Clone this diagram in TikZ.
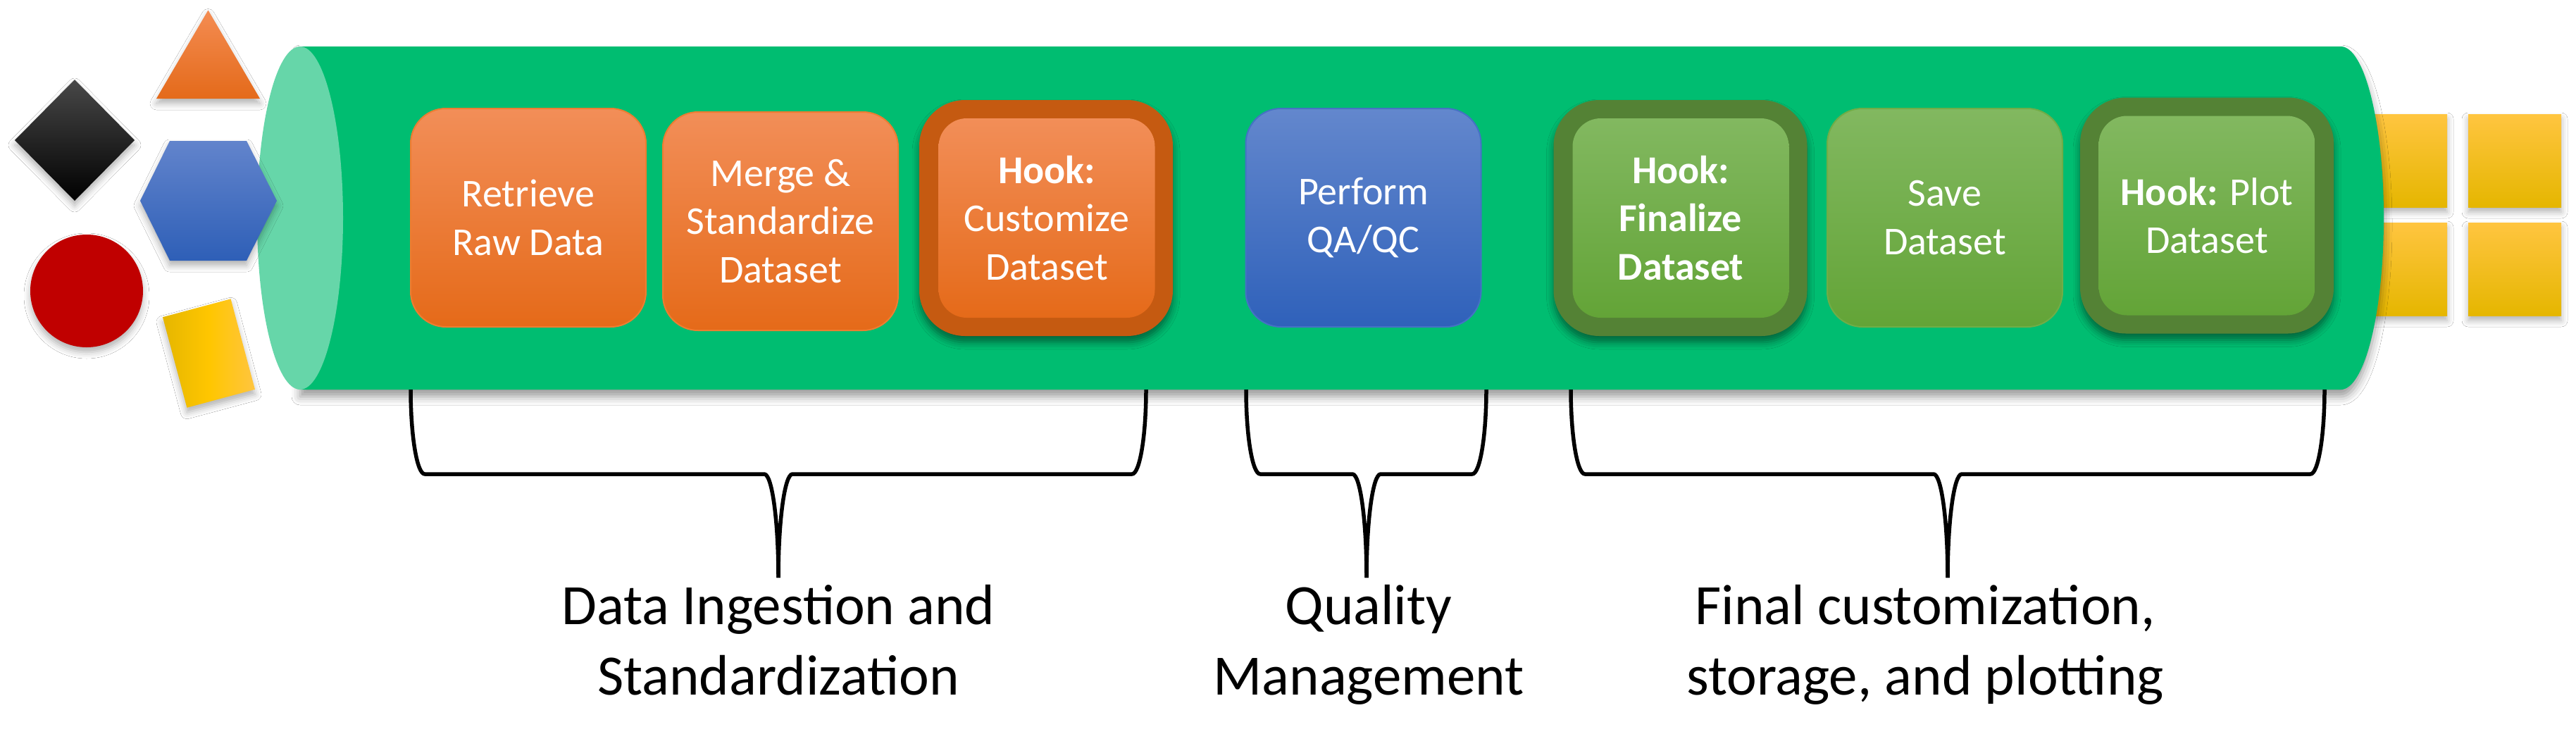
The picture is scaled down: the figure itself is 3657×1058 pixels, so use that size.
\documentclass[tikz,border=0pt]{standalone}
\usepackage{fontspec}
\setmainfont{Carlito}
\usetikzlibrary{shadows.blur,shapes.geometric}
\definecolor{cylgreen}{RGB}{0,189,113}
\definecolor{cyllight}{RGB}{102,214,169}
\definecolor{orTop}{RGB}{242,142,88}
\definecolor{orBot}{RGB}{229,106,25}
\definecolor{orEdge}{RGB}{237,125,49}
\definecolor{orDark}{RGB}{197,90,17}
\definecolor{blTop}{RGB}{99,135,205}
\definecolor{blBot}{RGB}{47,97,186}
\definecolor{blEdge}{RGB}{68,114,196}
\definecolor{grTop}{RGB}{130,184,96}
\definecolor{grBot}{RGB}{99,164,55}
\definecolor{grEdge}{RGB}{112,173,71}
\definecolor{grDark}{RGB}{84,130,53}
\definecolor{yeTop}{RGB}{255,197,64}
\definecolor{yeMid}{RGB}{255,198,0}
\definecolor{yeBot}{RGB}{229,182,0}
\definecolor{redc}{RGB}{192,0,0}
\definecolor{triTop}{RGB}{244,140,82}
\definecolor{triBot}{RGB}{228,106,26}
\definecolor{hexTop}{RGB}{98,132,204}
\definecolor{hexBot}{RGB}{46,95,183}
\definecolor{diaTop}{RGB}{72,72,72}
\tikzset{
  softshadow/.style={blur shadow={shadow xshift=0pt,shadow yshift=-7pt,shadow blur radius=9pt,shadow opacity=30}},
  hookshadow/.style={blur shadow={shadow xshift=0pt,shadow yshift=-9pt,shadow blur radius=10pt,shadow opacity=45}},
  boxtext/.style={text=white,align=center,font=\fontsize{56}{68.5}\selectfont,inner sep=0pt},
  plainbox/.style={boxtext,rectangle,rounded corners=50pt,minimum width=334pt,minimum height=310pt,line width=2pt},
  orangebox/.style={plainbox,draw=orEdge,top color=orTop,bottom color=orBot},
  bluebox/.style={plainbox,draw=blEdge,top color=blTop,bottom color=blBot},
  greenbox/.style={plainbox,draw=grEdge,top color=grTop,bottom color=grBot},
  hookouter/.style={rectangle,rounded corners=65pt,minimum width=360pt,minimum height=335pt,inner sep=0pt,hookshadow},
  hookinner/.style={boxtext,rectangle,rounded corners=40pt,minimum width=307pt,minimum height=283pt},
  yellowsq/.style={rectangle,minimum width=132pt,minimum height=132pt,inner sep=0pt,top color=yeTop,middle color=yeMid,bottom color=yeBot,softshadow},
  bracestyle/.style={draw=black,line width=5.5pt,line cap=butt,line join=round},
  grouplabel/.style={font=\fontsize{81}{99.5}\selectfont,anchor=base,inner sep=0pt,text=black}
}
\newcommand{\BraceDraw}[4]{%
  \coordinate (#4) at (#2,820);
  \draw[bracestyle] (#1,553) .. controls (#1,619) and (#1+9,673) .. (#1+20,673) -- (#2-20,673) .. controls (#2-9,673) and (#2,739) .. (#4);
  \draw[bracestyle] (#3,553) .. controls (#3,619) and (#3-9,673) .. (#3-20,673) -- (#2+20,673) .. controls (#2+9,673) and (#2,739) .. (#4);
}
\begin{document}
\begin{tikzpicture}[x=1pt,y=-1pt]
\useasboundingbox (0,0) rectangle (3657,1058);
\fill[white] (0,0) rectangle (3657,1058);

% yellow squares (output), behind the cylinder
\node[yellowsq] (sq1) at (3408,228) {};
\node[yellowsq] (sq2) at (3570,228) {};
\node[yellowsq] (sq3) at (3408,382) {};
\node[yellowsq] (sq4) at (3570,382) {};

% cylinder body
\path[fill=cylgreen,blur shadow={shadow xshift=0pt,shadow yshift=-10pt,shadow blur radius=12pt,shadow opacity=40}]
  (426,66) -- (3323,66) .. controls (3356.7,66) and (3384,175) .. (3384,309.5)
  .. controls (3384,444) and (3356.7,553) .. (3323,553) -- (426,553) -- cycle;
\node[ellipse,fill=cyllight,minimum width=122pt,minimum height=487pt,inner sep=0pt] (capL) at (426,309.5) {};

% braces
\BraceDraw{583}{1105}{1627}{tipA}
\BraceDraw{1769}{1940}{2110}{tipB}
\BraceDraw{2230}{2765}{3300}{tipC}

% input shapes
\path[top color=triTop,bottom color=triBot,softshadow] (295.5,14.5) -- (369,140) -- (222,140) -- cycle;
\path[top color=diaTop,middle color=black,bottom color=black,softshadow] (106,113) -- (191,199) -- (106,285) -- (21,199) -- cycle;
\path[top color=hexTop,bottom color=hexBot,softshadow] (199,285) -- (241,200) -- (350,200) -- (393,285) -- (350,370) -- (241,370) -- cycle;
\path[fill=redc,softshadow] (123,413) circle[radius=80pt];
\node[rectangle,rotate=15,minimum width=100pt,minimum height=133pt,inner sep=0pt,left color=yeBot,right color=yeTop,middle color=yeMid,softshadow] (rect) at (296.5,501.5) {};

% process boxes
\node[orangebox] (retrieve) at (750,309) {Retrieve\\Raw Data};
\node[orangebox] (merge) at (1108,314) {Merge \&\\Standardize\\Dataset};
\node[hookouter,fill=orDark] (hookCout) at (1485,309.5) {};
\node[hookinner,top color=orTop,bottom color=orBot] (hookC) at (1486,309.5) {\textbf{Hook:}\\Customize\\Dataset};
\node[bluebox] (qaqc) at (1935.5,309) {Perform\\QA/QC};
\node[hookouter,fill=grDark] (hookFout) at (2385.5,309.5) {};
\node[hookinner,top color=grTop,bottom color=grBot,font=\fontsize{56}{68.5}\selectfont\bfseries] (hookF) at (2386,309.5) {Hook:\\Finalize\\Dataset};
\node[greenbox] (save) at (2761,309) {Save\\Dataset};
\node[hookouter,fill=grDark] (hookPout) at (3133,306) {};
\node[hookinner,top color=grTop,bottom color=grBot] (hookP) at (3133,306) {\textbf{Hook:} Plot\\Dataset};

% group labels
\node[grouplabel] (labA) at (1105,886.5) {\begin{tabular}[t]{@{}c@{}}Data Ingestion and\\Standardization\end{tabular}};
\node[grouplabel] (labB) at (1943,886.5) {\begin{tabular}[t]{@{}c@{}}Quality\\Management\end{tabular}};
\node[grouplabel] (labC) at (2733,886.5) {\begin{tabular}[t]{@{}c@{}}Final customization,\\storage, and plotting\end{tabular}};
\end{tikzpicture}
\end{document}
